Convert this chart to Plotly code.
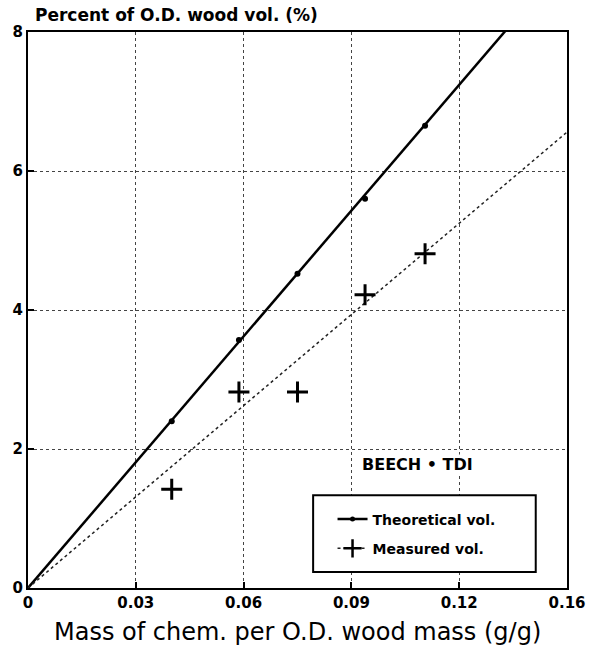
import plotly.graph_objects as go

# Mass of chemical per oven-dry wood mass (g/g)
mass_ratio = [0.040, 0.0587, 0.0750, 0.0938, 0.1105]
# Theoretical volume increase (% of O.D. wood volume)
theoretical_vol = [2.40, 3.57, 4.52, 5.60, 6.65]
# Measured volume increase (% of O.D. wood volume)
measured_vol = [1.42, 2.82, 2.82, 4.22, 4.81]

# Straight lines drawn through the two series
line_x = [0.0, 0.15]
theoretical_line = [0.0, 9.05]
measured_line = [0.0, 6.56]

x_ticks = [0, 0.03, 0.06, 0.09, 0.12, 0.15]
x_ticktext = ["0", "0.03", "0.06", "0.09", "0.12", "0.16"]
y_ticks = [0, 2, 4, 6, 8]

FONT = "DejaVu Sans"
BOLD = dict(family=FONT, weight="bold", color="black")

fig = go.Figure()

# Theoretical: solid line with small dots at the data points
fig.add_trace(go.Scatter(
    x=line_x, y=theoretical_line, mode="lines",
    line=dict(color="black", width=2.5), showlegend=False, hoverinfo="skip"))
fig.add_trace(go.Scatter(
    x=mass_ratio, y=theoretical_vol, mode="markers",
    marker=dict(color="black", size=6, symbol="circle"), showlegend=False))

# Measured: dotted line with plus markers
fig.add_trace(go.Scatter(
    x=line_x, y=measured_line, mode="lines",
    line=dict(color="#222", width=1.5, dash="dot"), showlegend=False, hoverinfo="skip"))
fig.add_trace(go.Scatter(
    x=mass_ratio, y=measured_vol, mode="markers",
    marker=dict(symbol="cross-thin", size=15, line=dict(color="black", width=3)),
    showlegend=False))

# Legend entries
fig.add_trace(go.Scatter(
    x=[None], y=[None], mode="lines+markers", name="Theoretical vol.",
    line=dict(color="black", width=2.5), marker=dict(color="black", size=5),
    legendgroup="a"))
fig.add_trace(go.Scatter(
    x=[None], y=[None], mode="lines+markers", name="Measured vol.",
    line=dict(color="#222", width=1.5, dash="dot"),
    marker=dict(symbol="cross-thin", size=13, line=dict(color="black", width=2.5)),
    legendgroup="b"))

axis_common = dict(
    showgrid=True, gridcolor="#444", griddash="dot", gridwidth=1,
    showline=True, linecolor="black", linewidth=2, mirror=True,
    ticks="inside", ticklen=6, tickwidth=1.5, tickcolor="black",
    tickfont=dict(size=15, **BOLD), zeroline=False, fixedrange=True,
)

fig.update_xaxes(range=[0, 0.15], tickvals=x_ticks, ticktext=x_ticktext, **axis_common)
fig.update_yaxes(range=[0, 8], tickvals=y_ticks, **axis_common)

fig.update_layout(
    width=598, height=666,
    margin=dict(l=28, r=31, t=32, b=78),
    plot_bgcolor="white", paper_bgcolor="white",
    legend=dict(
        x=0.565, y=0.152, xanchor="left", yanchor="top",
        bgcolor="rgba(0,0,0,0)", borderwidth=0,
        font=dict(size=14, **BOLD), tracegroupgap=8,
    ),
    shapes=[dict(
        type="rect", xref="paper", yref="paper",
        x0=0.529, x1=0.942, y0=0.029, y1=0.167,
        line=dict(color="black", width=2), fillcolor="white", layer="above",
    )],
    annotations=[
        dict(text="Percent of O.D. wood vol. (%)", xref="paper", yref="paper",
             x=0.01, y=1, xanchor="left", yanchor="middle", yshift=17,
             showarrow=False, font=dict(size=17, **BOLD)),
        dict(text="Mass of chem. per O.D. wood mass (g/g)", xref="paper", yref="paper",
             x=0.5, y=0, xanchor="center", yanchor="middle", yshift=-44,
             showarrow=False, font=dict(size=24, family=FONT, color="black")),
        dict(text="BEECH • TDI", xref="x", yref="y",
             x=0.0927, y=1.77, xanchor="left", yanchor="middle",
             showarrow=False, bgcolor="white", borderpad=0,
             font=dict(size=16, **BOLD)),
    ],
)

fig.write_html("out.html")
